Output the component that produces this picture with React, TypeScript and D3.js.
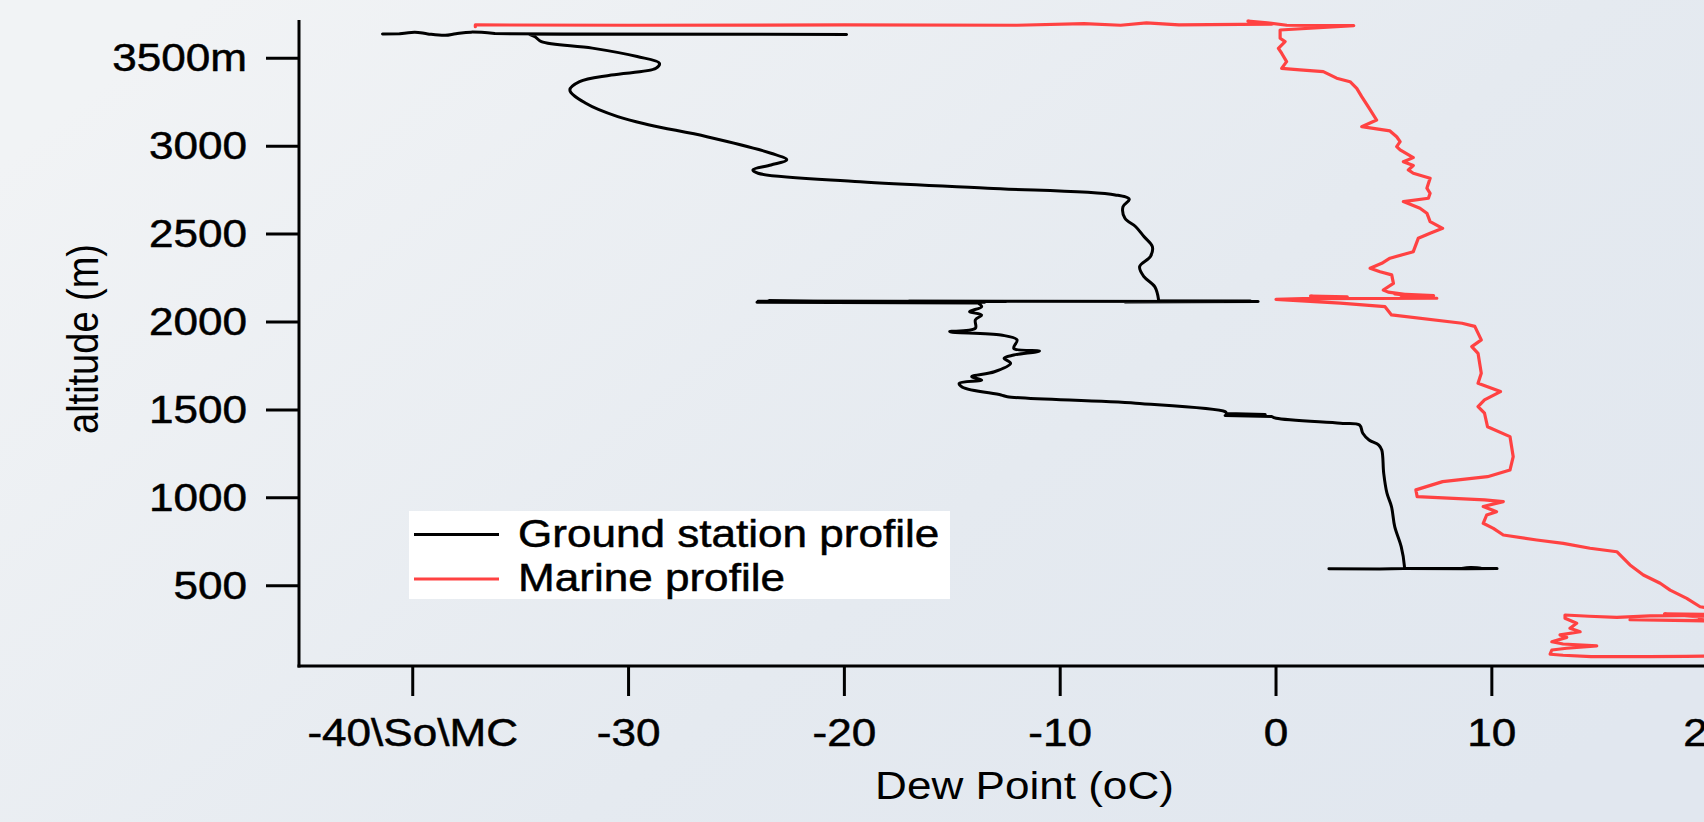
import React from "react";
import * as d3 from "d3";

// Dew point (°C) and altitude (m) samples, in sounding order
const groundDew = [
  2.45, 4.8, 5.9, 8.6, 9.0, 9.5, 8.9, 9.3, 10.24, 8.8, 5.95,
  5.95, 5.8, 5.5, 5.35, 5.14, 4.99, 4.9, 4.76, 4.31, 4.02, 3.87, 2.98, 0.01, -0.2, -2.36, -0.5, -2.3, -2.36,
  -6.5, -12.45, -12.74, -14.53, -14.68, -13.64, -14.1, -13.05, -12.3, -12.6, -12.15, -10.96, -12.15, -12.0,
  -12.75, -15.12, -13.93, -13.93, -13.64, -14.2, -13.64, -13.8,
  -24.05, -22.5, -24.0, -13.5, -23.5, -12.5, -17.0, -0.83, -7.0, -1.2, -5.44,
  -5.44, -5.62, -6.12, -6.32, -5.82, -5.73, -6.12, -6.5, -7.0, -7.09, -6.8, -7.45, -13.36, -19.27, -24.0,
  -24.24, -23.4, -22.67, -23.4, -26.37, -29.03, -30.5, -31.98, -32.72, -32.27, -30.8, -28.73, -28.57, -29.6,
  -31.68, -34.04, -34.34,
  -34.6, -19.9, -33.0, -36.2, -37.3, -38.0, -38.5, -39.3, -39.9, -40.6, -41.4,
];
const groundAlt = [
  596, 595, 597, 598, 603, 600, 597, 598, 597, 596, 598,
  610, 722, 836, 950, 1026, 1139, 1272, 1300, 1329, 1367, 1414, 1424, 1452, 1462, 1468, 1474, 1480, 1490,
  1538, 1575, 1585, 1629, 1651, 1670, 1689, 1717, 1765, 1794, 1812, 1835, 1850, 1898,
  1926, 1945, 1964, 2012, 2040, 2059, 2087, 2108,
  2112, 2116, 2118, 2113, 2120, 2116, 2118, 2117, 2114, 2120, 2121,
  2125, 2201, 2258, 2315, 2372, 2429, 2486, 2542, 2590, 2656, 2698, 2723, 2761, 2798, 2846,
  2865, 2893, 2922, 2960, 3054, 3121, 3168, 3244, 3320, 3367, 3405, 3443, 3472, 3510,
  3558, 3595, 3623,
  3637, 3636, 3638, 3641, 3649, 3640, 3631, 3639, 3649, 3640, 3639,
];

const marineDew = [
  21.5, 19.0, 17.3, 14.6, 13.3, 12.7, 12.78, 13.47, 14.86, 13.3, 12.78, 13.47, 13.16, 14.09, 13.62, 13.93,
  13.39, 13.39, 14.5, 15.79, 17.33, 21.5, 18.0, 21.5, 16.4, 21.5, 19.6, 21.5,
  19.65, 19.03, 18.26, 17.8, 17.02, 16.4, 15.79, 14.55, 13.31, 12.08, 10.53, 10.07, 9.6, 9.76, 10.22, 9.6,
  10.53, 9.66, 6.54, 6.48, 7.72, 9.8, 10.84, 10.99, 10.84, 9.8, 9.66, 9.36, 9.66, 10.4, 9.36, 9.51, 9.36,
  9.07, 9.51, 9.21, 8.62, 5.35, 5.05, 2.98,
  0.0, 2.5, 1.6, 3.3, 1.8, 7.45, 5.8, 7.3, 5.5, 7.0, 5.2,
  4.97, 5.44, 5.36, 4.82, 4.36, 4.9, 5.28, 6.36, 6.59, 7.14, 7.72, 7.14, 6.99, 6.67, 5.9, 7.06, 7.14, 6.99,
  7.14, 6.36, 6.13, 6.36, 5.9, 6.36, 5.75, 5.59, 5.75, 5.59, 5.28, 3.97, 4.66, 4.27, 3.97, 3.74, 3.43, 2.81,
  2.19, 1.11, 0.26, 0.49, 0.26, 0.11, 0.42, 0.19, 0.19,
  3.6, 0.5, -0.4, -1.3, -0.2, -4.5, -6.0, -7.2, -8.9, -12.0, -20.0, -30.0, -37.1, -37.1,
];
const marineAlt = [
  100, 98, 96, 96, 104, 110, 134, 144, 157, 168, 181, 206, 220, 238, 258, 286,
  315, 333, 326, 320, 328, 333, 340, 300, 306, 296, 318, 345,
  380, 428, 475, 514, 561, 618, 693, 713, 741, 760, 788, 826, 855, 902, 921, 950,
  978, 988, 1006, 1045, 1092, 1120, 1158, 1234, 1348, 1404, 1481, 1519, 1557, 1604, 1651, 1708, 1822,
  1860, 1898, 1975, 1993, 2040, 2087, 2107,
  2129, 2138, 2148, 2143, 2133, 2135, 2142, 2150, 2160, 2140, 2170,
  2182, 2220, 2268, 2286, 2306, 2334, 2363, 2400, 2476, 2505, 2533, 2571, 2619, 2647, 2685, 2704, 2732, 2761,
  2818, 2846, 2865, 2890, 2912, 2935, 2979, 2998, 3026, 3054, 3087, 3111, 3149, 3225, 3282, 3329, 3367, 3387,
  3424, 3434, 3443, 3481, 3529, 3557, 3595, 3614, 3661,
  3686, 3688, 3702, 3712, 3694, 3690, 3702, 3688, 3697, 3688, 3690, 3688, 3690, 3680,
];

const xTickValues = [-40, -30, -20, -10, 0, 10, 20];
const xTickLabels = ["-40\\So\\MC", "-30", "-20", "-10", "0", "10", "20"];
const yTickValues = [500, 1000, 1500, 2000, 2500, 3000, 3500];
const yTickLabels = ["500", "1000", "1500", "2000", "2500", "3000", "3500m"];

const seriesNames = ["Ground station profile", "Marine profile"];
const seriesColors = ["#000000", "#ff4242"];

const W = 1704;
const H = 822;
const FONT = "'Liberation Sans', Arial, sans-serif";
const FS = 38;
const SX = 1.16; // horizontal stretch of the lettering

type Pt = [number, number];

// Split a profile into runs: near-horizontal sweeps (large dew-point jump over a
// few metres) stay straight, the ascending parts get a smooth curve.
function splitRuns(pts: Pt[]): { flat: boolean; pts: Pt[] }[] {
  const runs: { flat: boolean; pts: Pt[] }[] = [];
  for (let i = 1; i < pts.length; i++) {
    const a = pts[i - 1];
    const b = pts[i];
    const flat = Math.abs(b[0] - a[0]) / Math.max(Math.abs(b[1] - a[1]), 1) > 0.25;
    const last = runs[runs.length - 1];
    if (last && last.flat === flat) last.pts.push(b);
    else runs.push({ flat, pts: [a, b] });
  }
  return runs;
}

export default function App() {
  const x = d3.scaleLinear().domain([-45.27, 19.83]).range([299, 1704]);
  const y = d3.scaleLinear().domain([43, 3718]).range([666, 20]);

  const smoothLine = d3
    .line<Pt>()
    .x((d) => x(d[0]))
    .y((d) => y(d[1]))
    .curve(d3.curveCatmullRom.alpha(0.5));
  const straightLine = d3
    .line<Pt>()
    .x((d) => x(d[0]))
    .y((d) => y(d[1]));

  const ground: Pt[] = groundDew.map((t, i) => [t, groundAlt[i]]);
  const marine: Pt[] = marineDew.map((t, i) => [t, marineAlt[i]]);

  const groundPath = splitRuns(ground)
    .map((r) => (r.flat ? straightLine(r.pts) : smoothLine(r.pts)) || "")
    .join("");

  const axisY = y.range()[0];
  const axisX = x.range()[0];

  const textProps = { fontSize: FS, fill: "#000", stroke: "#000", strokeWidth: 0.5 };

  return (
    <svg
      width={W}
      height={H}
      style={{ position: "absolute", left: 0, top: 0, display: "block" }}
      fontFamily={FONT}
    >
      <defs>
        <linearGradient id="bg" x1="0" y1="0.2" x2="1" y2="0.8">
          <stop offset="0" stopColor="#f1f3f5" />
          <stop offset="0.6" stopColor="#e5eaf0" />
          <stop offset="1" stopColor="#e1e7ef" />
        </linearGradient>
        <clipPath id="plot">
          <rect x={axisX} y={0} width={W - axisX} height={axisY} />
        </clipPath>
      </defs>
      <rect x={0} y={0} width={W} height={H} fill="url(#bg)" />

      <g clipPath="url(#plot)" fill="none" strokeLinejoin="round" strokeLinecap="round">
        <path d={straightLine(marine) || ""} stroke={seriesColors[1]} strokeWidth={3.2} />
        <path d={groundPath} stroke={seriesColors[0]} strokeWidth={3} />
      </g>

      {/* left axis */}
      <line x1={axisX} y1={20} x2={axisX} y2={axisY + 1.5} stroke="#000" strokeWidth={3} />
      {yTickValues.map((v, i) => (
        <g key={"yt" + v}>
          <line x1={axisX - 33} x2={axisX} y1={y(v)} y2={y(v)} stroke="#000" strokeWidth={3} />
          <text transform={`translate(247,${y(v) + 13}) scale(${SX},1)`} textAnchor="end" {...textProps}>
            {yTickLabels[i]}
          </text>
        </g>
      ))}
      <text
        transform={`translate(98,339) scale(${SX},1) rotate(-90)`}
        textAnchor="middle"
        fontSize={FS}
        fill="#000"
      >
        altitude (m)
      </text>

      {/* bottom axis */}
      <line x1={axisX - 1.5} y1={axisY} x2={W} y2={axisY} stroke="#000" strokeWidth={3} />
      {xTickValues.map((v, i) => (
        <g key={"xt" + v}>
          <line x1={x(v)} x2={x(v)} y1={axisY} y2={axisY + 30} stroke="#000" strokeWidth={3} />
          <text transform={`translate(${x(v)},746) scale(${SX},1)`} textAnchor="middle" {...textProps}>
            {xTickLabels[i]}
          </text>
        </g>
      ))}
      <text
        transform={`translate(1024.5,799) scale(${SX},1)`}
        textAnchor="middle"
        fontSize={FS}
        fill="#000"
      >
        Dew Point (oC)
      </text>

      {/* legend */}
      <rect x={409} y={511} width={541} height={88} fill="#ffffff" />
      {seriesNames.map((name, i) => (
        <g key={name}>
          <line
            x1={414}
            x2={499}
            y1={534.5 + i * 44.5}
            y2={534.5 + i * 44.5}
            stroke={seriesColors[i]}
            strokeWidth={3}
          />
          <text transform={`translate(518,${547 + i * 43.5}) scale(${SX},1)`} {...textProps}>
            {name}
          </text>
        </g>
      ))}
    </svg>
  );
}
